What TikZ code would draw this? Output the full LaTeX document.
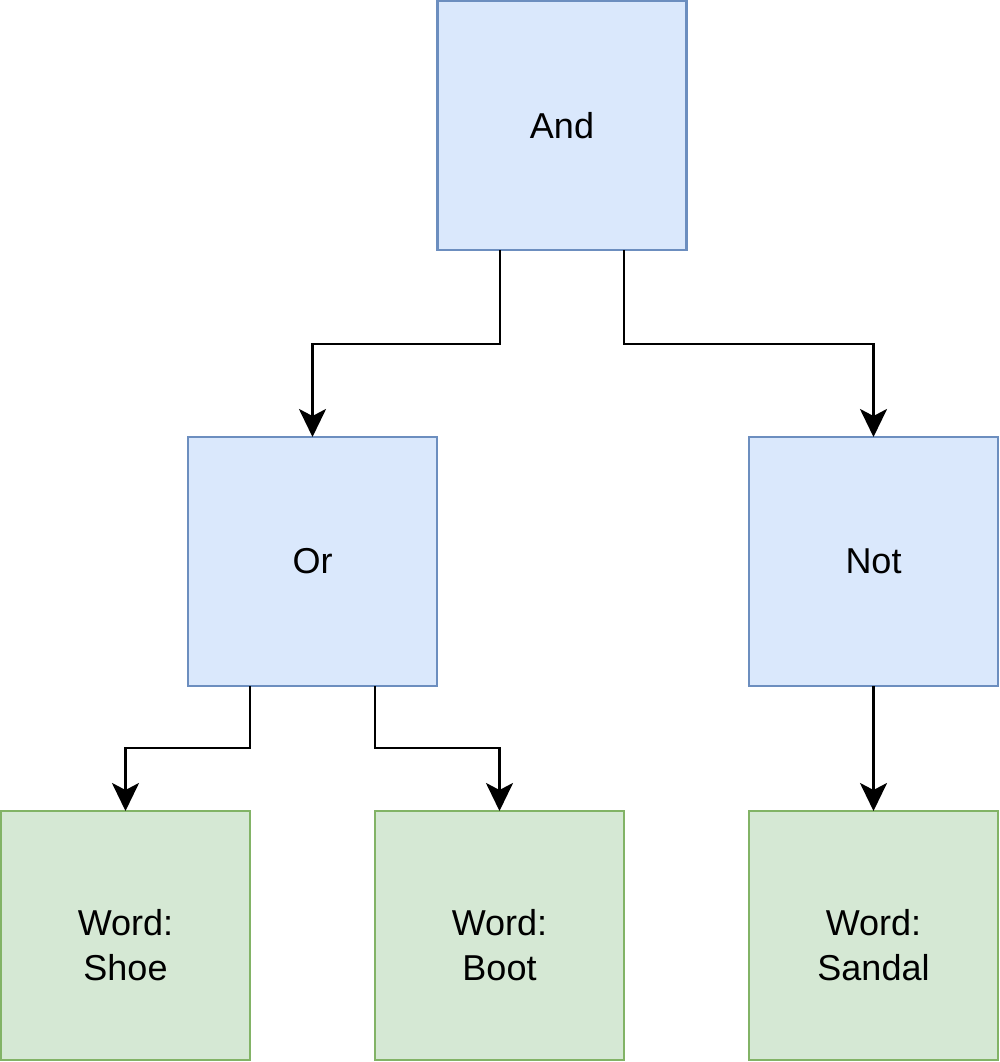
\documentclass[tikz,border=0pt]{standalone}
\usepackage{fontspec}
\setmainfont{Liberation Sans}
\usetikzlibrary{arrows.meta}
\definecolor{bfill}{HTML}{DAE8FC}
\definecolor{bline}{HTML}{6C8EBF}
\definecolor{gfill}{HTML}{D5E8D4}
\definecolor{gline}{HTML}{82B366}
\newcommand{\twoline}[2]{\raisebox{-20pt}[0pt][0pt]{\begin{tabular}{@{}c@{}}#1\\#2\end{tabular}}}
\tikzset{
  box/.style={draw, line width=2.8pt, minimum width=249pt, minimum height=249pt,
    inner sep=0pt, outer sep=0pt, align=center,
    font=\fontsize{36}{45}\selectfont},
  bluebox/.style={box, fill=bfill, draw=bline},
  greenbox/.style={box, fill=gfill, draw=gline},
  arr/.style={line width=2.8pt, -{Stealth[length=28pt, width=27pt, inset=7pt]}}
}
\begin{document}
\begin{tikzpicture}[x=1pt,y=-1pt]
\useasboundingbox (0,0) rectangle (1000,1062);
\node[bluebox] (and) at (562,125.5) {And};
\node[bluebox] (or) at (312.5,561.5) {Or};
\node[bluebox] (not) at (873.5,561.5) {Not};
\node[greenbox] (shoe) at (125.5,935.5) {\twoline{Word:}{Shoe}};
\node[greenbox] (boot) at (499.5,935.5) {\twoline{Word:}{Boot}};
\node[greenbox] (sandal) at (873.5,935.5) {\twoline{Word:}{Sandal}};
\draw[arr] ([xshift=-62pt]and.south) -- ++(0,94) -| (or.north);
\draw[arr] ([xshift=62pt]and.south) -- ++(0,94) -| (not.north);
\draw[arr] ([xshift=-62.5pt]or.south) -- ++(0,62) -| (shoe.north);
\draw[arr] ([xshift=62.5pt]or.south) -- ++(0,62) -| (boot.north);
\draw[arr] (not.south) -- (sandal.north);
\end{tikzpicture}
\end{document}
